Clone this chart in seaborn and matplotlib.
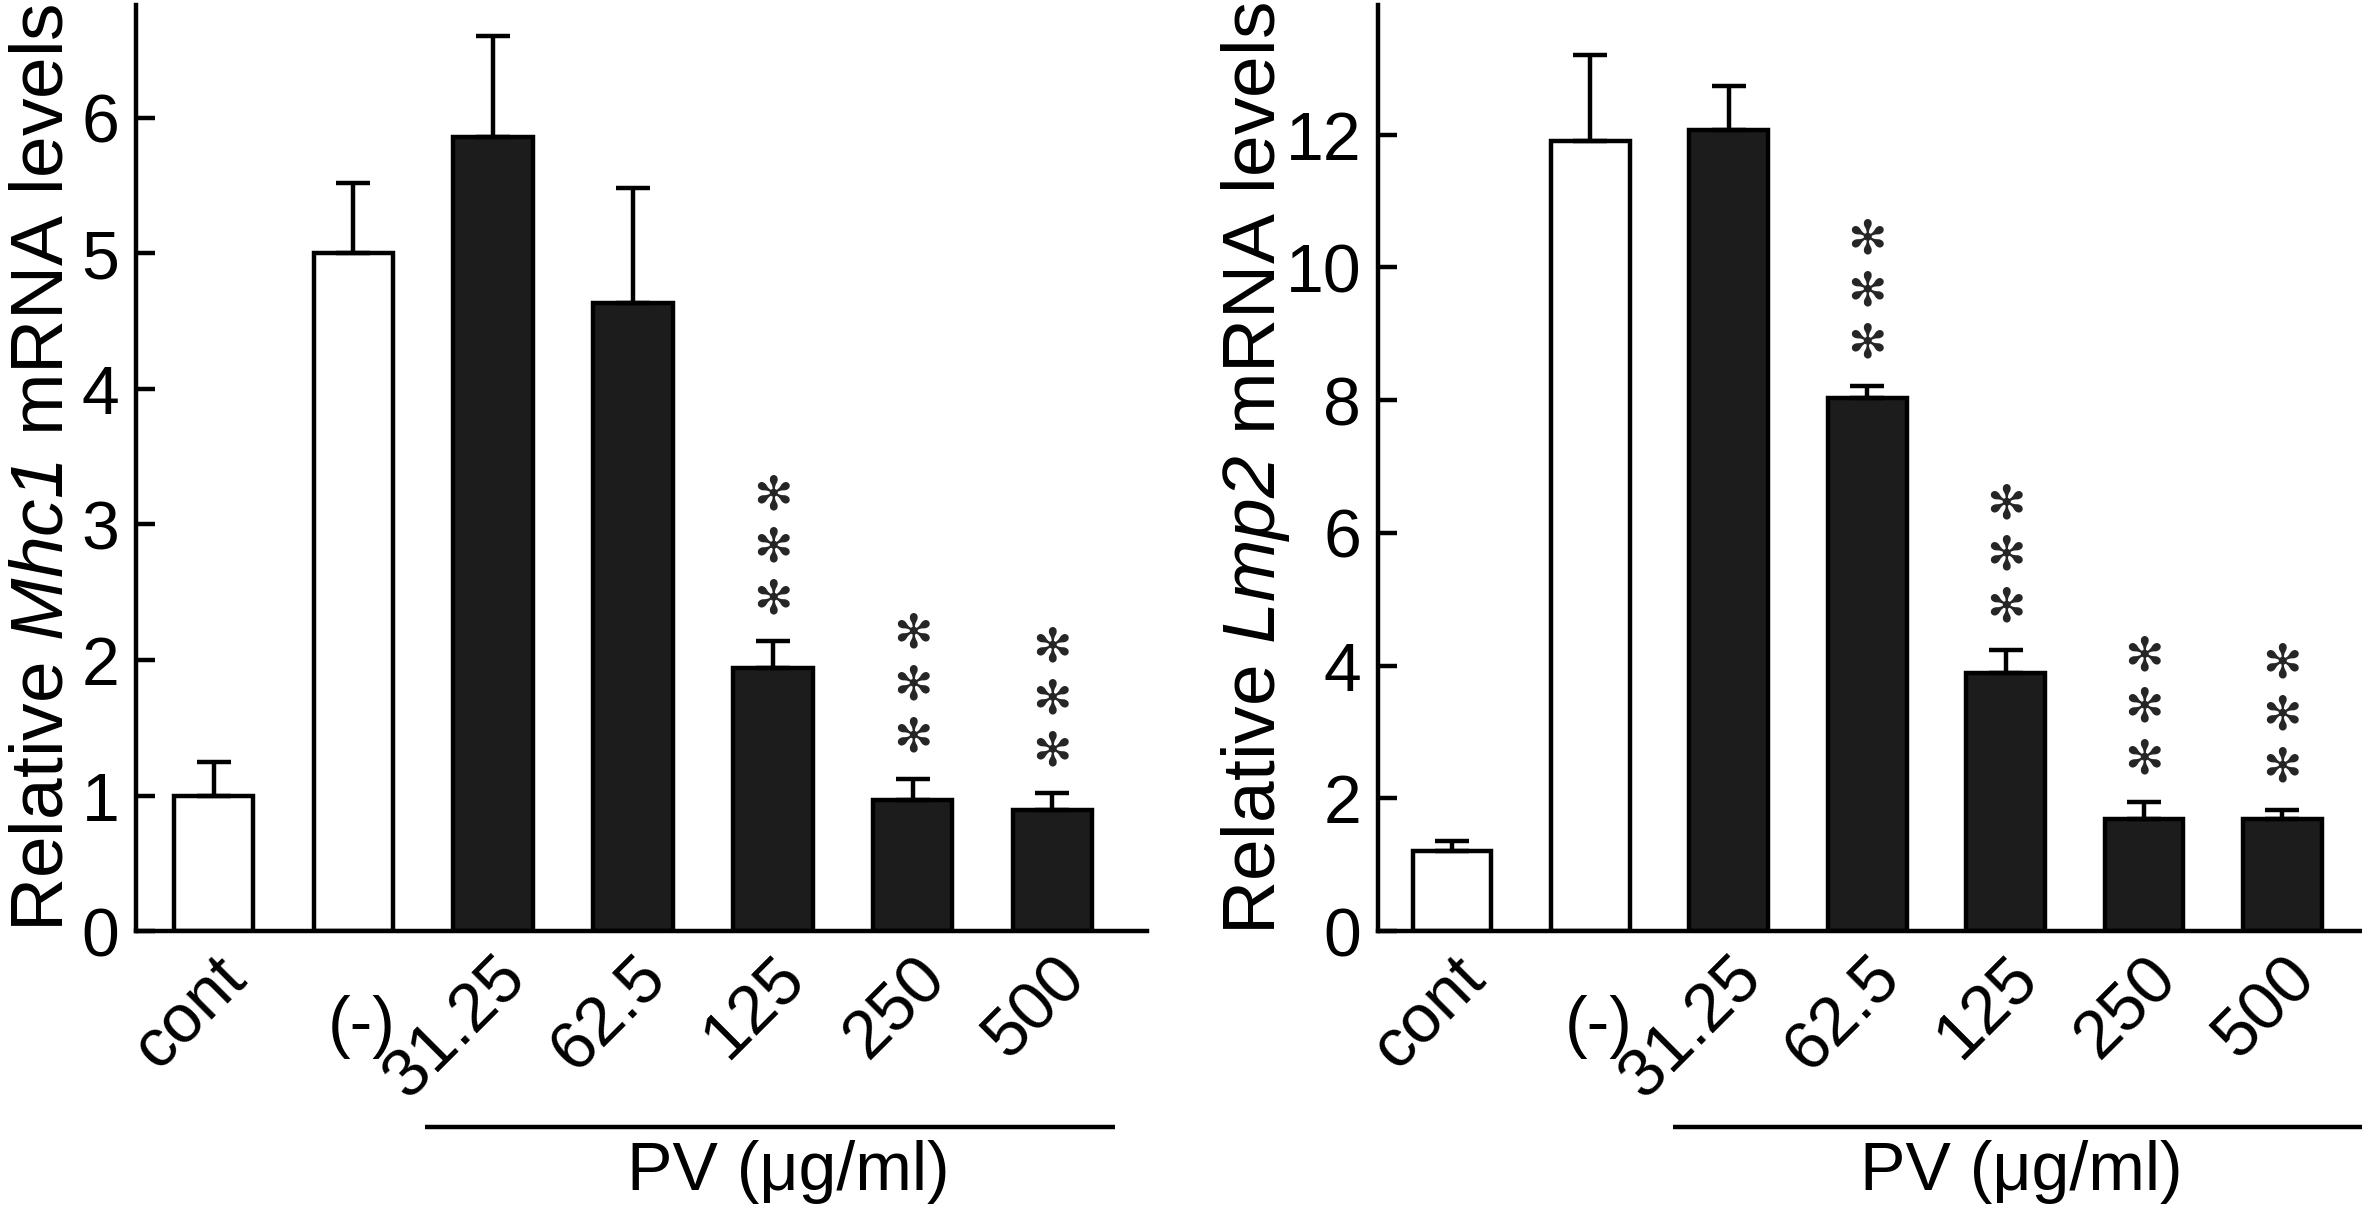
import matplotlib
matplotlib.use("Agg")
import matplotlib.pyplot as plt
import matplotlib.transforms as mtransforms
import pandas as pd
import seaborn as sns

# Data
groups = ["cont", "(-)", "31.25", "62.5", "125", "250", "500"]
bar_kind = ["ctrl", "ctrl", "pv", "pv", "pv", "pv", "pv"]
mhc1_mean = [1.00, 5.00, 5.86, 4.63, 1.94, 0.97, 0.89]
mhc1_sem = [0.25, 0.52, 0.74, 0.85, 0.20, 0.15, 0.13]
lmp2_mean = [1.21, 11.90, 12.07, 8.03, 3.89, 1.69, 1.69]
lmp2_sem = [0.14, 1.30, 0.66, 0.19, 0.35, 0.26, 0.14]
mhc1_stars = ["", "", "", "", "***", "***", "***"]
lmp2_stars = ["", "", "", "***", "***", "***", "***"]

FONT = "Liberation Sans"
FS = 49
LW = 3.2

sns.set_theme(style="ticks")
plt.rcParams["font.family"] = [FONT, "DejaVu Sans"]
plt.rcParams["mathtext.fontset"] = "custom"
plt.rcParams["mathtext.rm"] = FONT
plt.rcParams["mathtext.sf"] = FONT + ":italic"


def draw_panel(ax, means, sems, stars, ylabel, ylim, yticks, xlim, line_x, label_x):
    df = pd.DataFrame({"group": groups, "value": means, "kind": bar_kind})
    sns.barplot(data=df, x="group", y="value", hue="kind", order=groups,
                palette={"ctrl": "white", "pv": "#1c1c1c"}, dodge=False,
                width=0.57, edgecolor="black", linewidth=LW, errorbar=None,
                legend=False, ax=ax)
    xs = list(range(len(groups)))
    ax.errorbar(xs, means, yerr=[[0] * len(sems), sems], fmt="none",
                ecolor="black", elinewidth=LW, capsize=12.5, capthick=LW, zorder=1)

    # stacked asterisks above error bars
    for x, m, s, st in zip(xs, means, sems, stars):
        for i, _ in enumerate(st):
            ax.annotate("\u273b", (x, m + s), xytext=(0, 29 + 37.4 * i),
                        textcoords="offset points", ha="center", va="center",
                        fontsize=34, family="DejaVu Sans")

    ax.set_xlim(*xlim)
    ax.set_ylim(*ylim)
    ax.set_yticks(yticks)
    ax.set_yticklabels([str(t) for t in yticks])
    sns.despine(ax=ax)
    for side in ["left", "bottom"]:
        ax.spines[side].set_linewidth(LW)
        ax.spines[side].set_color("black")
    ax.tick_params(axis="y", direction="in", length=14, width=LW, pad=12,
                   labelsize=FS, colors="black")
    ax.tick_params(axis="x", length=0, pad=10, labelsize=FS, colors="black")

    ax.set_xticks(xs)
    ax.set_xticklabels(groups)
    for lab in ax.get_xticklabels():
        if lab.get_text() == "(-)":
            lab.set_rotation(0)
            lab.set_ha("center")
            lab.set_va("top")
            shift = mtransforms.ScaledTranslation(6 / 72, -36 / 72, ax.figure.dpi_scale_trans)
            lab.set_transform(lab.get_transform() + shift)
        else:
            lab.set_rotation(45)
            lab.set_ha("right")
            lab.set_va("top")
            lab.set_rotation_mode("anchor")

    ax.set_xlabel("")
    ax.set_ylabel(ylabel, fontsize=54, color="black")
    ax.yaxis.set_label_coords(label_x, 0.5)

    trans = mtransforms.blended_transform_factory(ax.transData, ax.transAxes)
    ax.plot(line_x, [-0.212, -0.212], color="black", lw=LW, transform=trans,
            clip_on=False, solid_capstyle="butt")
    ax.text(4.11, -0.260, "PV (\u03bcg/ml)", transform=trans, ha="center",
            va="center", fontsize=FS, color="black")


fig = plt.figure(figsize=(23.62, 12.15), dpi=100)
ax1 = fig.add_axes([0.0576, 0.2337, 0.4282, 0.762])
ax2 = fig.add_axes([0.5834, 0.2337, 0.4166, 0.762])

draw_panel(ax1, mhc1_mean, mhc1_sem, mhc1_stars,
           r"Relative $\mathsf{Mhc1}$ mRNA levels", (0, 6.83), [0, 1, 2, 3, 4, 5, 6],
           (-0.555, 6.68), [1.51, 6.45], -0.058)
draw_panel(ax2, lmp2_mean, lmp2_sem, lmp2_stars,
           r"Relative $\mathsf{Lmp2}$ mRNA levels", (0, 13.95), [0, 2, 4, 6, 8, 10, 12],
           (-0.535, 6.575), [1.6, 6.575], -0.087)

fig.savefig("out.png", dpi=100, facecolor="white")
